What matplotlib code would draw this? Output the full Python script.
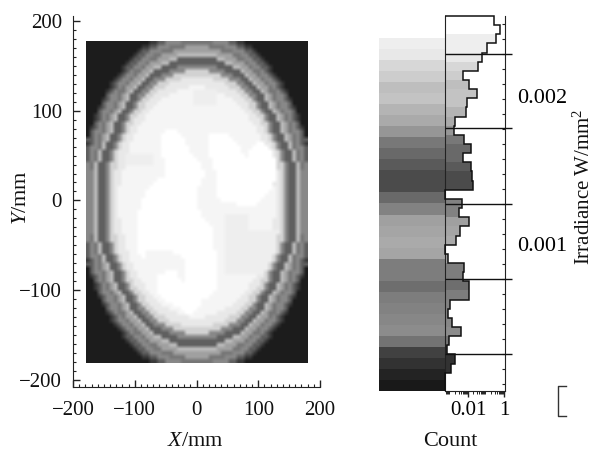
import numpy as np
import matplotlib
matplotlib.use('Agg')
import matplotlib.pyplot as plt
from matplotlib.lines import Line2D
from matplotlib.ticker import LogLocator, NullFormatter

plt.rcParams['font.family'] = ['Liberation Serif', 'DejaVu Serif']
plt.rcParams['mathtext.fontset'] = 'custom'
plt.rcParams['mathtext.rm'] = 'Liberation Serif'
plt.rcParams['mathtext.it'] = 'Liberation Serif:italic'

W, H = 596, 450
DARK = '#222222'

# irradiance map: one char per cell, 0 = darkest, a = white
# upper left quarter, row ends that are left out are level 9
quarter = [
    '0000000000000000112244443333',
    '0000000000000011224443333555',
    '0000000000000122444333555555',
    '0000000000001224433555566666',
    '0000000000012244335556622222',
    '0000000000122443555662222222',
    '0000000001224435566222244444',
    '0000000001243355622224444777',
    '0000000012443556222444777777',
    '0000000124435562244477778888',
    '0000001244355622447778888888',
    '000000124355622447778888889',
    '00000124335622447788888',
    '0000024435622447788889',
    '0000124435622477888',
    '000024435622477888',
    '00012443562247788',
    '0002443562247788',
    '001243562247788',
    '001243562247888',
    '00243562247788',
    '0124356224788',
    '0244356224788',
    '024356224788',
    '224356224788',
    '12436224788',
    '24436224788',
    '24362247888',
    '2436224788',
    '2436224788',
    '4362247788',
    '4362247788',
    '446224788',
    '446224788',
    '446224788',
    '446224788',
    '44622478',
    '44622478',
    '44622478',
    '44622478',
]

# white patches in the middle: (row, first column, last column)
white_cells = [
    (22, 20, 22), (23, 19, 23), (23, 31, 35), (24, 19, 24), (24, 31, 36),
    (25, 19, 24), (25, 31, 37), (25, 43, 44), (26, 19, 25), (26, 31, 38),
    (26, 42, 45), (27, 19, 25), (27, 31, 38), (27, 41, 46), (28, 19, 26),
    (28, 31, 39), (28, 41, 46), (29, 20, 27), (29, 32, 47), (30, 20, 28),
    (30, 32, 47), (31, 20, 28), (31, 32, 47), (32, 20, 29), (32, 33, 47),
    (33, 20, 29), (33, 33, 47), (34, 18, 28), (34, 33, 47), (35, 17, 28),
    (35, 33, 46), (36, 16, 27), (36, 33, 46), (37, 15, 27), (37, 33, 45),
    (38, 15, 27), (38, 33, 44), (39, 14, 27), (39, 34, 43), (40, 14, 27),
    (40, 38, 42), (41, 14, 27), (42, 13, 28), (43, 13, 28), (44, 13, 29),
    (45, 13, 30), (46, 13, 31), (47, 13, 31), (48, 13, 31), (49, 13, 31),
    (50, 13, 31), (51, 13, 31), (52, 13, 14), (52, 22, 32), (53, 14, 14),
    (53, 24, 32), (54, 25, 32), (55, 25, 32), (56, 25, 32), (57, 20, 22),
    (57, 25, 32), (58, 18, 22), (58, 25, 32), (59, 18, 23), (59, 25, 32),
    (60, 18, 32), (61, 18, 32), (62, 18, 31), (63, 19, 30), (64, 20, 28),
    (65, 22, 28), (66, 24, 27), (67, 25, 26),
]
# slightly darker patches: (first row, last row, first column, last column)
pale_cells = [(47, 57, 35, 48), (43, 46, 35, 40), (28, 30, 10, 16), (12, 15, 27, 32)]
level_gray = [28, 58, 95, 118, 136, 160, 188, 210, 232, 245, 255, 238]

# grey bands of the scale, top to bottom
band_gray = [238, 232, 215, 205, 190, 195, 180, 170, 150, 120, 105, 90, 75, 75, 105, 130,
             160, 165, 170, 165, 125, 125, 110, 125, 130, 135, 140, 115, 65, 50, 35, 25]
# histogram counts, top to bottom
counts = [0.28, 0.6, 0.35, 0.11, 0.06, 0.036, 0.0051, 0.0114, 0.032, 0.0085, 0.0074,
          0.0019, 0.00166, 0.006, 0.014, 0.0053, 0.014, 0.016, 0.019, 0, 0.0048, 0.0032,
          0.0118, 0.0036, 0.0021, 0, 0.00078, 0.0063, 0.0051, 0.0118, 0.011, 0.001,
          0.00081, 0.00125, 0.004, 0.00088, 0.00068, 0.0019, 0.0011, 0, 0]
level_lines = [0.002286, 0.001784, 0.00127, 0.000764, 0.000257]

# build the map
rows = [list(r.ljust(28, '9')) for r in quarter]
rows = [r + r[::-1] for r in rows]
rows = rows + rows[::-1]
grid = np.array([[int(c, 16) for c in r] for r in rows])
for r0, r1, c0, c1 in pale_cells:
    # only the plateau, the patch must not eat into the ring
    part = grid[r0:r1 + 1, c0:c1 + 1]
    part[part >= 8] = 11
for r, c0, c1 in white_cells:
    grid[r, c0:c1 + 1] = 10
image = np.array(level_gray)[grid]


def axes_px(x0, y0, x1, y1):
    # axes from pixel corners of the picture, y counted from the top
    return fig.add_axes([x0 / W, 1 - y1 / H, (x1 - x0) / W, (y1 - y0) / H])


def text_px(x, y, s, size=15, **kw):
    fig.text(x / W, 1 - y / H, s, ha='center', va='center', fontsize=size, color='#111111', **kw)


fig = plt.figure(figsize=(W / 100, H / 100), dpi=100)

# map
ax0 = axes_px(73, 16, 320, 387)
ax0.imshow(image, cmap='gray', vmin=0, vmax=255, extent=(-179, 180.5, -181.5, 177),
           aspect='auto', interpolation='bilinear')
ax0.set_xlim(-200, 200)
ax0.set_ylim(-208, 205.6)
ax0.set_xticks([-200, -100, 0, 100, 200])
ax0.set_yticks([-200, -100, 0, 100, 200])
ax0.set_xticks(np.arange(-200, 201, 10), minor=True)
ax0.set_yticks(np.arange(-200, 201, 10), minor=True)
ax0.tick_params(which='major', direction='in', length=5, width=1, color=DARK, labelsize=15)
ax0.tick_params(which='minor', direction='in', length=2.5, width=0.8, color=DARK)
ax0.tick_params(axis='x', which='major', pad=10)
ax0.tick_params(axis='y', which='major', pad=8)
ax0.spines['top'].set_visible(False)
ax0.spines['right'].set_visible(False)
ax0.spines['left'].set_color(DARK)
ax0.spines['bottom'].set_color(DARK)
for lab in ax0.get_xticklabels() + ax0.get_yticklabels():
    lab.set_color('#111111')

# grey scale
y_low, y_top, y_hist = 0.000007, 0.002392, 0.00254
ax1 = axes_px(379, 38, 445, 391)
band_edges = np.linspace(y_low, y_top, len(band_gray) + 1)
ax1.pcolormesh([0, 1], band_edges, np.array(band_gray[::-1])[:, None], cmap='gray',
               vmin=0, vmax=255)
ax1.set_ylim(y_low, y_top)
ax1.axis('off')

# histogram
ax2 = axes_px(445, 16, 505, 391)
x_low = 0.000527
ax2.set_xscale('log')
ax2.set_xlim(x_low, 1.137)
ax2.set_ylim(y_low, y_hist)
hist_edges = np.linspace(y_low, y_hist, len(counts) + 1)
values = np.maximum(np.array(counts[::-1]), x_low)
centers = (hist_edges[:-1] + hist_edges[1:]) / 2
for i in range(len(values)):
    if centers[i] < y_top and values[i] > x_low:
        k = min(np.searchsorted(band_edges, centers[i]) - 1, len(band_gray) - 1)
        g = band_gray[::-1][k] / 255
        ax2.barh(centers[i], values[i] - x_low, height=hist_edges[i + 1] - hist_edges[i],
                 left=x_low, color=(g, g, g), linewidth=0)
ax2.stairs(values, hist_edges, orientation='horizontal', baseline=x_low, color='#111111',
           linewidth=1.1, zorder=3, clip_on=False)
ax2.hlines(level_lines, 0, 1.117, transform=ax2.get_yaxis_transform(), colors='#111111',
           linewidth=1, clip_on=False, zorder=4)
ax2.spines['top'].set_visible(False)
ax2.spines['left'].set_color(DARK)
ax2.spines['right'].set_color(DARK)
ax2.spines['bottom'].set_color(DARK)
ax2.set_xticks([0.01, 1], ['0.01', '1'])
ax2.xaxis.set_minor_locator(LogLocator(base=10, subs=np.arange(2, 10), numticks=12))
ax2.xaxis.set_minor_formatter(NullFormatter())
ax2.tick_params(axis='x', which='major', direction='out', length=4, width=1, color=DARK,
                labelsize=15, pad=3)
ax2.tick_params(axis='x', which='minor', direction='out', length=2.5, width=0.7, color=DARK)
ax2.yaxis.tick_right()
ax2.set_yticks([0.001, 0.002], ['0.001', '0.002'])
ax2.set_yticks(np.arange(0.000054, y_hist, 0.0001014), minor=True)
ax2.tick_params(axis='y', which='major', length=0, labelsize=16, pad=9)
ax2.tick_params(axis='y', which='minor', direction='in', length=2, width=0.8, color=DARK)

# axis titles
text_px(195, 441, r'$\mathit{X}$/mm', size=16)
text_px(21, 198, r'$\mathit{Y}$/mm', size=16, rotation=90)
text_px(450, 441, 'Count', size=16)
text_px(584, 187, 'Irradiance W/mm$^{2}$', rotation=90)

# cut off piece at the lower right edge
fig.add_artist(Line2D(np.array([566, 558, 558, 566]) / W, 1 - np.array([386, 386, 416, 416]) / H,
                      color='#333333', linewidth=1))

fig.savefig('out.png', dpi=100)
